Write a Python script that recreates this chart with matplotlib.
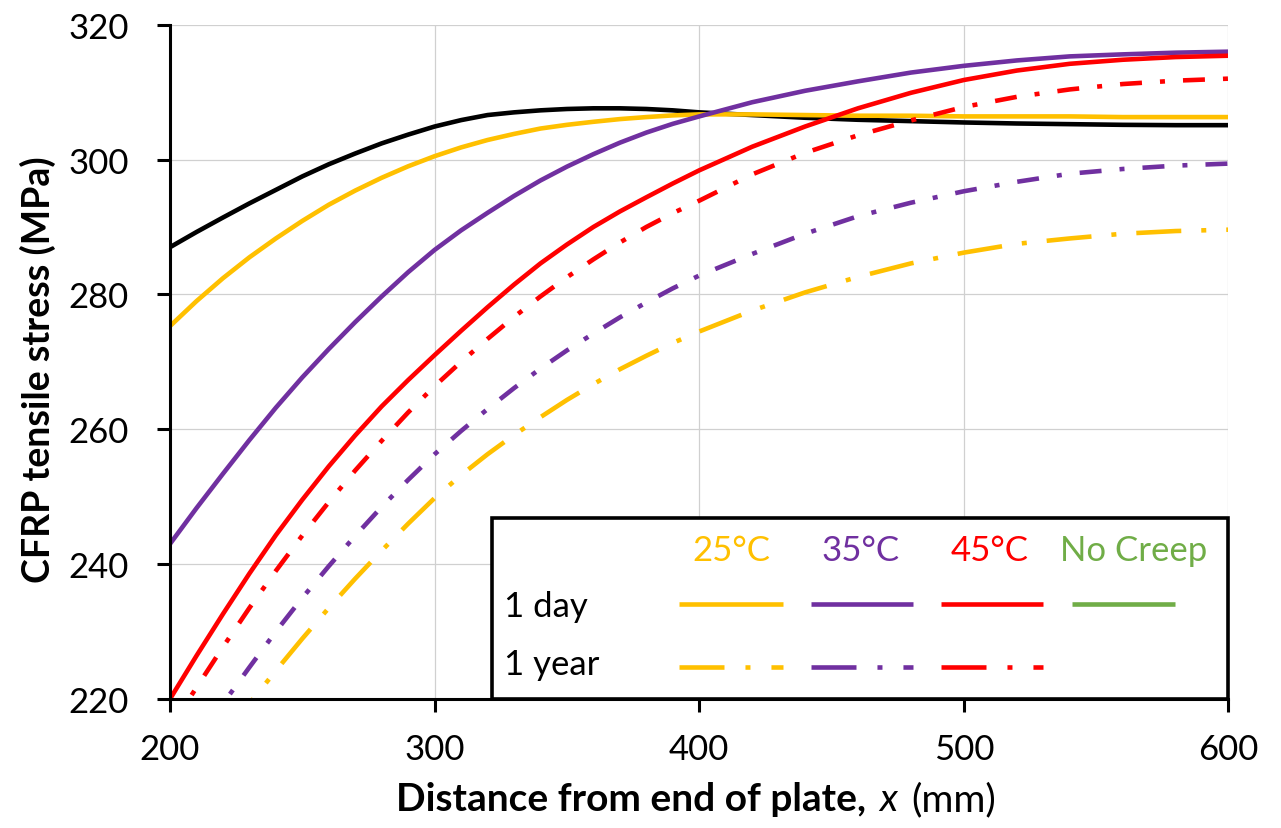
import matplotlib
matplotlib.use("Agg")
import matplotlib.pyplot as plt
from matplotlib.offsetbox import TextArea, HPacker, AnnotationBbox
from matplotlib.patches import Rectangle

# Distance from the end of the plate (mm)
x_mm = [200, 210, 220, 230, 240, 250, 260, 270, 280, 290, 300,
        310, 320, 330, 340, 350, 360, 370, 380, 390, 400,
        420, 440, 460, 480, 500, 520, 540, 560, 580, 600]

# CFRP tensile stress (MPa)
no_creep = [287.0, 289.25, 291.4, 293.5, 295.5, 297.5, 299.3, 300.9, 302.4, 303.7, 304.9,
            305.85, 306.6, 307.0, 307.3, 307.5, 307.6, 307.6, 307.5, 307.3, 307.0,
            306.6, 306.2, 305.9, 305.7, 305.5, 305.35, 305.25, 305.15, 305.1, 305.1]
day_25 = [275.3, 279.0, 282.4, 285.5, 288.3, 290.9, 293.3, 295.4, 297.3, 299.0, 300.5,
          301.8, 302.9, 303.8, 304.6, 305.15, 305.6, 306.0, 306.3, 306.55, 306.7,
          306.7, 306.6, 306.5, 306.5, 306.4, 306.4, 306.4, 306.3, 306.3, 306.3]
day_35 = [243.0, 248.3, 253.4, 258.4, 263.2, 267.7, 271.9, 275.9, 279.7, 283.3, 286.6,
          289.5, 292.1, 294.6, 296.9, 298.95, 300.8, 302.5, 304.0, 305.3, 306.4,
          308.5, 310.2, 311.6, 312.9, 313.9, 314.7, 315.3, 315.6, 315.85, 316.0]
day_45 = [220.0, 226.4, 232.6, 238.6, 244.3, 249.55, 254.5, 259.1, 263.4, 267.3, 271.0,
          274.6, 278.1, 281.45, 284.6, 287.4, 290.0, 292.3, 294.4, 296.45, 298.4,
          301.9, 304.9, 307.6, 309.9, 311.8, 313.2, 314.2, 314.8, 315.2, 315.4]
year_25 = [204.3, 209.3, 214.3, 219.3, 224.2, 228.95, 233.5, 237.85, 242.0, 246.0, 249.8,
           253.2, 256.3, 259.15, 261.8, 264.35, 266.7, 268.9, 270.9, 272.8, 274.5,
           277.6, 280.3, 282.6, 284.6, 286.2, 287.5, 288.3, 289.0, 289.4, 289.6]
year_35 = [208.3, 213.85, 219.3, 224.7, 230.0, 235.0, 239.7, 244.2, 248.5, 252.5, 256.3,
           259.75, 263.0, 266.1, 269.0, 271.7, 274.2, 276.6, 278.8, 280.9, 282.8,
           286.0, 289.0, 291.6, 293.6, 295.3, 296.7, 297.9, 298.6, 299.1, 299.4]
year_45 = [215.6, 221.7, 227.7, 233.5, 239.0, 244.25, 249.2, 253.9, 258.3, 262.5, 266.4,
           270.0, 273.4, 276.65, 279.7, 282.55, 285.2, 287.7, 290.0, 292.05, 293.9,
           297.8, 301.0, 303.6, 305.8, 307.8, 309.3, 310.4, 311.2, 311.7, 312.0]

x_ticks = [200, 300, 400, 500, 600]
y_ticks = [220, 240, 260, 280, 300, 320]
temp_labels = ["25°C", "35°C", "45°C", "No Creep"]
row_labels = ["1 day", "1 year"]

YELLOW = "#FFC000"
PURPLE = "#7030A0"
RED = "#FF0000"
GREEN = "#70AD47"
BLACK = "#000000"

plt.rcParams["font.family"] = ["Lato", "DejaVu Sans"]
plt.rcParams["lines.scale_dashes"] = False

LW = 3.3
long_dd = (0, (32.4, 14.4, 3.6, 14.4))
short_dd = (0, (15.8, 13.0, 3.6, 13.0))
legend_dd = (0, (32.4, 15.1, 3.6, 15.1))

fig = plt.figure(figsize=(12.81, 8.29), dpi=100)
ax = fig.add_axes([0.1327, 0.1556, 0.8263, 0.8134])

common = dict(lw=LW, solid_capstyle="butt", dash_capstyle="butt",
              solid_joinstyle="round")
ax.plot(x_mm, no_creep, color=BLACK, **common)
ax.plot(x_mm, day_25, color=YELLOW, **common)
ax.plot(x_mm, day_35, color=PURPLE, **common)
ax.plot(x_mm, day_45, color=RED, **common)
ax.plot(x_mm, year_25, color=YELLOW, ls=long_dd, **common)
ax.plot(x_mm, year_35, color=PURPLE, ls=short_dd, **common)
ax.plot(x_mm, year_45, color=RED, ls=short_dd, **common)

ax.set_xlim(200, 600)
ax.set_ylim(220, 320)
ax.set_xticks(x_ticks)
ax.set_yticks(y_ticks)
ax.grid(True, color="#d0d0d0", lw=0.9)
ax.set_axisbelow(True)

for side in ("top", "right"):
    ax.spines[side].set_visible(False)
for side in ("left", "bottom"):
    ax.spines[side].set_linewidth(2.2)
    ax.spines[side].set_color(BLACK)

ax.tick_params(axis="both", direction="out", length=9.5, width=2.2,
               labelsize=25, colors=BLACK)
ax.tick_params(axis="y", pad=20)
ax.tick_params(axis="x", pad=15)

ax.set_ylabel("CFRP tensile stress (MPa)", fontsize=27, fontweight="bold")
ax.yaxis.set_label_coords(-0.108, 0.490)

# x-axis title with mixed weights / styles
parts = [
    TextArea("Distance from end of plate,",
             textprops=dict(fontsize=28, fontweight="bold", color=BLACK)),
    TextArea("x", textprops=dict(fontsize=28, fontstyle="italic", color=BLACK)),
    TextArea("(mm)", textprops=dict(fontsize=28, color=BLACK)),
]
xlabel_box = HPacker(children=parts, align="baseline", pad=0, sep=10)
ab = AnnotationBbox(xlabel_box, (0.497, -0.148), xycoords="axes fraction",
                    box_alignment=(0.5, 0.5), frameon=False, annotation_clip=False)
ax.add_artist(ab)

# Key panel in the lower right corner
ax.add_patch(Rectangle((0.304, 0.0), 0.696, 0.268, transform=ax.transAxes,
                       facecolor="white", edgecolor=BLACK, lw=2.6,
                       zorder=5, clip_on=False))

header_x = [0.5305, 0.652, 0.7747, 0.9107]
header_colors = [YELLOW, PURPLE, RED, GREEN]
for label, hx, col in zip(temp_labels, header_x, header_colors):
    ax.text(hx, 0.2206, label, transform=ax.transAxes, ha="center", va="center",
            fontsize=25, color=col, zorder=6)

ax.text(0.3155, 0.1384, row_labels[0], transform=ax.transAxes, ha="left",
        va="center", fontsize=25, color=BLACK, zorder=6)
ax.text(0.3155, 0.0519, row_labels[1], transform=ax.transAxes, ha="left",
        va="center", fontsize=25, color=BLACK, zorder=6)

sample_spans = [(0.4806, 0.5787), (0.6054, 0.7020), (0.7280, 0.8246), (0.8526, 0.9498)]
day_colors = [YELLOW, PURPLE, RED, GREEN]
for (x0, x1), col in zip(sample_spans, day_colors):
    ax.plot([x0, x1], [0.1409, 0.1409], transform=ax.transAxes, color=col,
            lw=LW, solid_capstyle="butt", zorder=6, clip_on=False)
for (x0, x1), col in zip(sample_spans[:3], [YELLOW, PURPLE, RED]):
    ax.plot([x0, x1], [0.0479, 0.0479], transform=ax.transAxes, color=col,
            lw=LW, ls=legend_dd, dash_capstyle="butt", zorder=6, clip_on=False)

fig.savefig("out.png", dpi=100)
